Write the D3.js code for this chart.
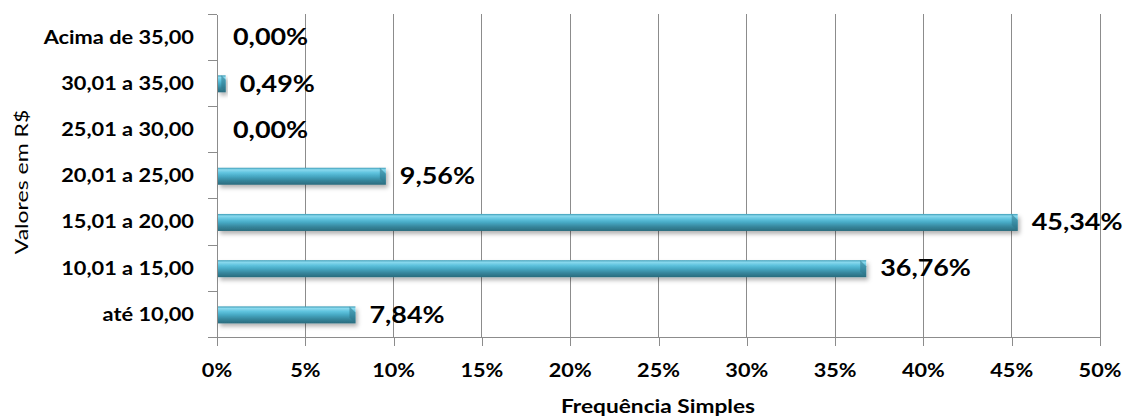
<!DOCTYPE html>
<html><head><meta charset="utf-8">
<script src="https://cdn.jsdelivr.net/npm/d3@7/dist/d3.min.js"></script>
<style>body{margin:0;background:#fff}svg{display:block}</style>
</head><body><svg id="c" width="1126" height="417"></svg>
<script>
const categories = ["até 10,00","10,01 a 15,00","15,01 a 20,00","20,01 a 25,00","25,01 a 30,00","30,01 a 35,00","Acima de 35,00"];
const values = [7.84, 36.76, 45.34, 9.56, 0.00, 0.49, 0.00];
const labels = ["7,84%","36,76%","45,34%","9,56%","0,00%","0,49%","0,00%"];
const xTicks = [0,5,10,15,20,25,30,35,40,45,50];

const svg = d3.select("#c");
const W = 1126, H = 417;
const m = {left:217, right:W-1100, top:14, bottom:H-337.5};
const x = d3.scaleLinear().domain([0,50]).range([m.left, W - m.right]);
const y = d3.scaleBand().domain(categories.slice().reverse()).range([m.top, H - m.bottom]);
const font = "Lato, 'Open Sans', sans-serif";

const defs = svg.append("defs");
const g = defs.append("linearGradient").attr("id","bar").attr("x1",0).attr("y1",0).attr("x2",0).attr("y2",1);
[[0,"#3c9cb6"],[0.12,"#8ad9ee"],[0.3,"#5fc3de"],[0.5,"#47a9c4"],[0.75,"#36869c"],[1,"#2a6b7d"]].forEach(s=>g.append("stop").attr("offset",s[0]).attr("stop-color",s[1]));
const f = defs.append("filter").attr("id","sh").attr("x","-10%").attr("y","-50%").attr("width","130%").attr("height","250%");
f.append("feDropShadow").attr("dx",2).attr("dy",3).attr("stdDeviation",2).attr("flood-color","#000").attr("flood-opacity",0.3);

function stext(sel, px, py, sx, rot){
  sel.attr("transform",(d,i)=>{
    const X = typeof px==="function"?px(d,i):px, Y = typeof py==="function"?py(d,i):py;
    return `translate(${X},${Y})` + (rot?` rotate(${rot})`:"") + ` scale(${sx},1)`;
  });
  return sel;
}

// gridlines
svg.append("g").selectAll("line").data(xTicks.slice(1)).join("line")
  .attr("x1",d=>x(d)).attr("x2",d=>x(d)).attr("y1",m.top).attr("y2",H-m.bottom)
  .attr("stroke","#8c8c8c").attr("stroke-width",1).attr("shape-rendering","crispEdges");

// y axis
const ya = d3.axisLeft(y).tickSize(0).tickFormat("");
const yg = svg.append("g").attr("transform",`translate(${m.left},0)`).call(ya);
yg.select(".domain").attr("stroke","#8c8c8c").attr("shape-rendering","crispEdges");
const bounds = categories.map(c=>y(c)).concat([y.range()[1]]);
svg.append("g").selectAll("line").data(bounds).join("line")
  .attr("x1",m.left-9).attr("x2",m.left).attr("y1",d=>d).attr("y2",d=>d)
  .attr("stroke","#8c8c8c").attr("shape-rendering","crispEdges");
stext(svg.append("g").selectAll("text").data(categories).join("text")
  .attr("text-anchor","end").attr("dy","0.36em")
  .attr("font-family",font).attr("font-size",18).attr("font-weight","bold").attr("fill","#000")
  .text(d=>d), 194, d=>y(d)+y.bandwidth()/2, 1.21);

// x axis
const xa = d3.axisBottom(x).tickValues(xTicks).tickFormat("").tickSize(8);
const xg = svg.append("g").attr("transform",`translate(0,${H-m.bottom})`).call(xa);
xg.select(".domain").attr("stroke","#8c8c8c").attr("d",`M${m.left-9},0H${W-m.right}`).attr("shape-rendering","crispEdges");
xg.selectAll(".tick line").attr("stroke","#8c8c8c").attr("shape-rendering","crispEdges");
stext(svg.append("g").selectAll("text").data(xTicks).join("text")
  .attr("text-anchor","middle")
  .attr("font-family",font).attr("font-size",19).attr("font-weight","bold").attr("fill","#000")
  .text(d=>d+"%"), d=>x(d), 377, 1.14);

// bars
const data = categories.map((c,i)=>({c, v:values[i], l:labels[i]}));
const bh = 17;
const bars = svg.append("g").selectAll("g").data(data.filter(d=>d.v>0)).join("g").attr("filter","url(#sh)");
bars.append("rect")
  .attr("x",x(0)+1).attr("y",d=>y(d.c)+y.bandwidth()/2-bh/2+0.5)
  .attr("width",d=>Math.max(x(d.v)-x(0)-1,3)).attr("height",bh)
  .attr("fill","url(#bar)");
bars.append("path").attr("d",d=>{
  const x1 = x(0)+1+Math.max(x(d.v)-x(0)-1,3), y0 = y(d.c)+y.bandwidth()/2-bh/2+0.5;
  const b = Math.min(6, (x1-x(0))/2);
  return `M${x1-b},${y0}L${x1},${y0+b}L${x1},${y0+bh}L${x1-b},${y0+bh-b}Z`;
}).attr("fill","#2d7488").attr("opacity",0.55);

// value labels
stext(svg.append("g").selectAll("text").data(data).join("text")
  .attr("dy","0.36em").attr("font-family",font).attr("font-size",23).attr("font-weight","bold").attr("fill","#000")
  .text(d=>d.l), d=>x(d.v)+(d.v>0?14:16), d=>y(d.c)+y.bandwidth()/2, 1.17);

// titles
stext(svg.append("text").attr("text-anchor","middle").attr("font-family",font).attr("font-size",18).attr("fill","#000")
  .text("Valores em R$"), 28, 182, 1.28, -90);
stext(svg.append("text").attr("text-anchor","middle").attr("font-family",font).attr("font-size",18).attr("font-weight","bold").attr("fill","#000")
  .text("Frequência Simples"), 658, 413, 1.26);
</script></body></html>
